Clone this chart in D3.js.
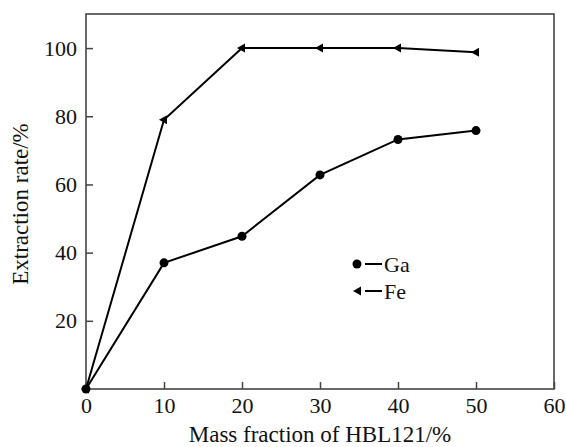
<!DOCTYPE html>
<html><head><meta charset="utf-8">
<script src="https://cdn.jsdelivr.net/npm/d3@7"></script>
<style>body{margin:0;background:#fff;} svg text{font-family:'Liberation Serif','Times New Roman',serif !important;}</style>
</head><body>
<svg id="c" width="566" height="447"></svg>
<script>
const massFraction = [0, 10, 20, 30, 40, 50];
const gaValues = [0, 37, 44.8, 62.8, 73.2, 75.8];
const feValues = [0, 79, 100, 100, 100, 98.8];
const xTicks = [0, 10, 20, 30, 40, 50, 60];
const yTicks = [20, 40, 60, 80, 100];
const seriesNames = ["Ga", "Fe"];

const svg = d3.select("#c");
const L = 86, R = 554, T = 14, B = 389;
const x = d3.scaleLinear().domain([0, 60]).range([L, R]);
const y = d3.scaleLinear().domain([0, 110]).range([B, T]);

// frame
svg.append("rect").attr("x", L).attr("y", T).attr("width", R - L).attr("height", B - T)
  .attr("fill", "none").attr("stroke", "#444").attr("stroke-width", 1.6);

// x axis
const xa = svg.append("g").attr("transform", `translate(0,${B})`)
  .call(d3.axisBottom(x).tickValues(xTicks).tickSize(-7).tickPadding(8).tickFormat(d3.format("d")));
xa.select(".domain").remove();
xa.selectAll("line").attr("stroke", "#444").attr("stroke-width", 1.5);
xa.selectAll("text").style("font-size", "22px").attr("fill", "#111");

// y axis
const ya = svg.append("g").attr("transform", `translate(${L},0)`)
  .call(d3.axisLeft(y).tickValues(yTicks).tickSize(-7).tickPadding(9).tickFormat(d3.format("d")));
ya.select(".domain").remove();
ya.selectAll("line").attr("stroke", "#444").attr("stroke-width", 1.5);
ya.selectAll("text").style("font-size", "22px").attr("fill", "#111");

// titles
svg.append("text").attr("x", 320).attr("y", 442).attr("text-anchor", "middle")
  .style("font-size", "23px").attr("fill", "#111").text("Mass fraction of HBL121/%");
svg.append("text").attr("transform", "translate(28,204) rotate(-90)").attr("text-anchor", "middle")
  .style("font-size", "23px").attr("fill", "#111").text("Extraction rate/%");

const line = d3.line().x(d => x(d[0])).y(d => y(d[1]));
const ga = massFraction.map((m, i) => [m, gaValues[i]]);
const fe = massFraction.map((m, i) => [m, feValues[i]]);

svg.append("path").attr("d", line(fe)).attr("fill", "none").attr("stroke", "#000").attr("stroke-width", 2);
svg.append("path").attr("d", line(ga)).attr("fill", "none").attr("stroke", "#000").attr("stroke-width", 2);

const tri = "M-5,0 L3,-4.5 L3,4.5 Z";
svg.selectAll(".fe").data(fe).enter().append("path").attr("class", "fe")
  .attr("transform", d => `translate(${x(d[0])},${y(d[1])})`).attr("d", tri).attr("fill", "#000");
svg.selectAll(".ga").data(ga).enter().append("circle").attr("class", "ga")
  .attr("cx", d => x(d[0])).attr("cy", d => y(d[1])).attr("r", 4.5).attr("fill", "#000");

// legend
const lg = svg.append("g").attr("fill", "#111");
lg.append("circle").attr("cx", 357).attr("cy", 264).attr("r", 4.5).attr("fill", "#000");
lg.append("line").attr("x1", 365).attr("x2", 382).attr("y1", 264).attr("y2", 264).attr("stroke", "#000").attr("stroke-width", 2);
lg.append("text").attr("x", 384).attr("y", 272).style("font-size", "22px").text(seriesNames[0]);
lg.append("path").attr("transform", "translate(358,291)").attr("d", tri).attr("fill", "#000");
lg.append("line").attr("x1", 365).attr("x2", 382).attr("y1", 291).attr("y2", 291).attr("stroke", "#000").attr("stroke-width", 2);
lg.append("text").attr("x", 384).attr("y", 299).style("font-size", "22px").text(seriesNames[1]);
</script>
</body></html>
